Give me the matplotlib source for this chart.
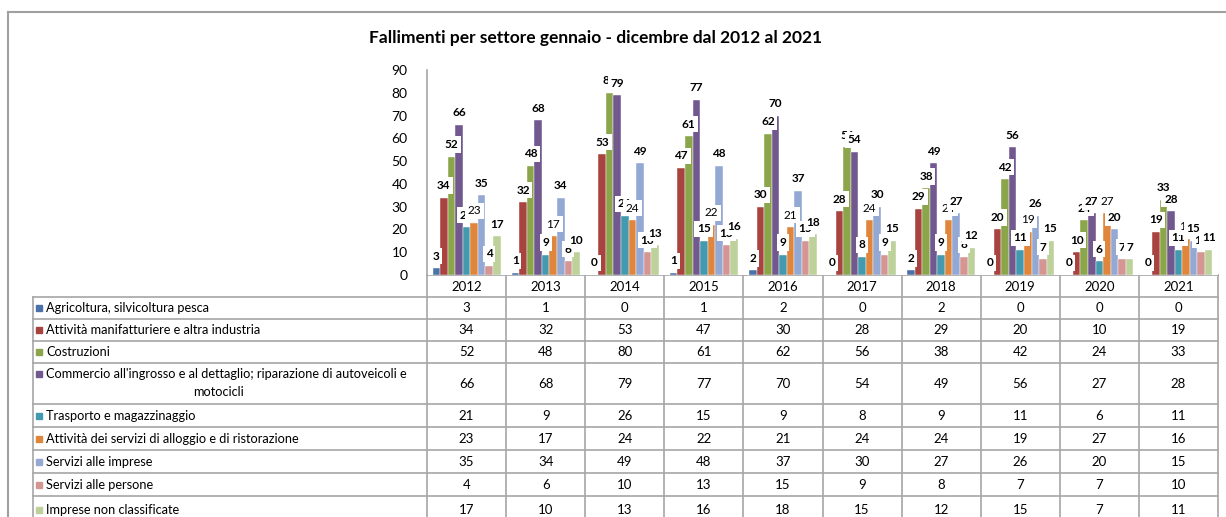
import matplotlib
matplotlib.use("Agg")
from matplotlib import pyplot as plt
import numpy as np

plt.rcParams['font.family'] = ['Lato', 'DejaVu Sans']

years = [2012, 2013, 2014, 2015, 2016, 2017, 2018, 2019, 2020, 2021]

sectors = [
    "Agricoltura, silvicoltura pesca",
    "Attività manifatturiere e altra industria",
    "Costruzioni",
    "Commercio all'ingrosso e al dettaglio; riparazione di autoveicoli e\nmotocicli",
    "Trasporto e magazzinaggio",
    "Attività dei servizi di alloggio e di ristorazione",
    "Servizi alle imprese",
    "Servizi alle persone",
    "Imprese non classificate",
]

agricoltura = [3, 1, 0, 1, 2, 0, 2, 0, 0, 0]
manifattura = [34, 32, 53, 47, 30, 28, 29, 20, 10, 19]
costruzioni = [52, 48, 80, 61, 62, 56, 38, 42, 24, 33]
commercio = [66, 68, 79, 77, 70, 54, 49, 56, 27, 28]
trasporto = [21, 9, 26, 15, 9, 8, 9, 11, 6, 11]
alloggio = [23, 17, 24, 22, 21, 24, 24, 19, 27, 16]
servizi_imprese = [35, 34, 49, 48, 37, 30, 27, 26, 20, 15]
servizi_persone = [4, 6, 10, 13, 15, 9, 8, 7, 7, 10]
non_classificate = [17, 10, 13, 16, 18, 15, 12, 15, 7, 11]

series = [agricoltura, manifattura, costruzioni, commercio, trasporto,
          alloggio, servizi_imprese, servizi_persone, non_classificate]

colors = ["#4A72A8", "#A84340", "#8AA54A", "#71598F", "#4399AE",
          "#E0853C", "#93A9D4", "#D49593", "#BDD19A"]

W, H = 1226, 517
GRID = "#A6A6A6"

fig = plt.figure(figsize=(W / 100, H / 100), dpi=100)

# layout in pixels
x0, x1 = 427, 1218
y_top, y_zero = 70, 275
lab_left = 33
row_lines = [297, 319, 341, 363, 404, 427, 450, 473, 496, 540]

ax = fig.add_axes([x0 / W, 1 - y_zero / H, (x1 - x0) / W, (y_zero - y_top) / H])
ax.set_xlim(0, len(years))
ax.set_ylim(0, 90)
ax.set_yticks(range(0, 91, 10))
ax.tick_params(axis='y', length=0, pad=14, labelsize=10, colors='black')
ax.set_xticks([])
for s in ['top', 'right', 'bottom']:
    ax.spines[s].set_visible(False)
ax.spines['left'].set_color(GRID)
ax.spines['left'].set_linewidth(1.2)

n = len(series)
bw = 7.55 / ((x1 - x0) / len(years))
xs = np.arange(len(years)) + 0.5
for j, vals in enumerate(series):
    pos = xs + (j - (n - 1) / 2) * bw
    ax.bar(pos, vals, width=bw, color=colors[j], edgecolor='white',
           linewidth=0.3, zorder=2)

# data labels with white boxes, drawn on top in series order
for j, vals in enumerate(series):
    pos = xs + (j - (n - 1) / 2) * bw
    weight = 'normal' if j == 5 else 'bold'
    for p, v in zip(pos, vals):
        ax.annotate(str(v), (p, v), xytext=(0, 12), textcoords='offset pixels',
                    ha='center', va='center', fontsize=8.5, fontweight=weight,
                    color='black', zorder=5 + j, annotation_clip=False,
                    bbox=dict(boxstyle='square,pad=0.22', fc='white', ec='none'))

# overlay in pixel coordinates for frame, title and data table
ov = fig.add_axes([0, 0, 1, 1], zorder=-1)
ov.set_xlim(0, W)
ov.set_ylim(H, 0)
ov.axis('off')

ov.plot([8, W], [12, 12], color="#A0A0A0", lw=1.5)
ov.plot([8, 8], [12, H], color="#A0A0A0", lw=1.5)

ov.text(596, 38, "Fallimenti per settore gennaio - dicembre dal 2012 al 2021",
        ha='center', va='center', fontsize=12.5, fontweight='bold')

col_w = (x1 - x0) / len(years)
ov.plot([x0, x1], [y_zero, y_zero], color=GRID, lw=1.2)
for i in range(len(years) + 1):
    ov.plot([x0 + i * col_w] * 2, [y_zero, H], color=GRID, lw=1.2)
for y in row_lines[:-1]:
    ov.plot([lab_left, x1], [y, y], color=GRID, lw=1.2)
ov.plot([lab_left, lab_left], [row_lines[0], H], color=GRID, lw=1.2)

for i, yr in enumerate(years):
    ov.text(x0 + (i + 0.5) * col_w, (y_zero + row_lines[0]) / 2 + 1, str(yr),
            ha='center', va='center', fontsize=9.5)

for r, (name, vals) in enumerate(zip(sectors, series)):
    ya, yb = row_lines[r], row_lines[r + 1]
    yc = (ya + min(yb, H + 6)) / 2 if r == len(series) - 1 else (ya + yb) / 2
    lines = name.split("\n")
    ly = yc if len(lines) == 1 else ya + 11
    ov.add_patch(plt.Rectangle((36, ly - 3), 6, 6, color=colors[r]))
    ov.text(46, ly + 0.5, lines[0], ha='left', va='center', fontsize=9.2)
    if len(lines) > 1:
        ov.text(218, ya + 29, lines[1], ha='center', va='center', fontsize=9.2)
    for i, v in enumerate(vals):
        ov.text(x0 + (i + 0.5) * col_w, yc + 0.5, str(v),
                ha='center', va='center', fontsize=9.5)

fig.savefig("out.png", dpi=100)
